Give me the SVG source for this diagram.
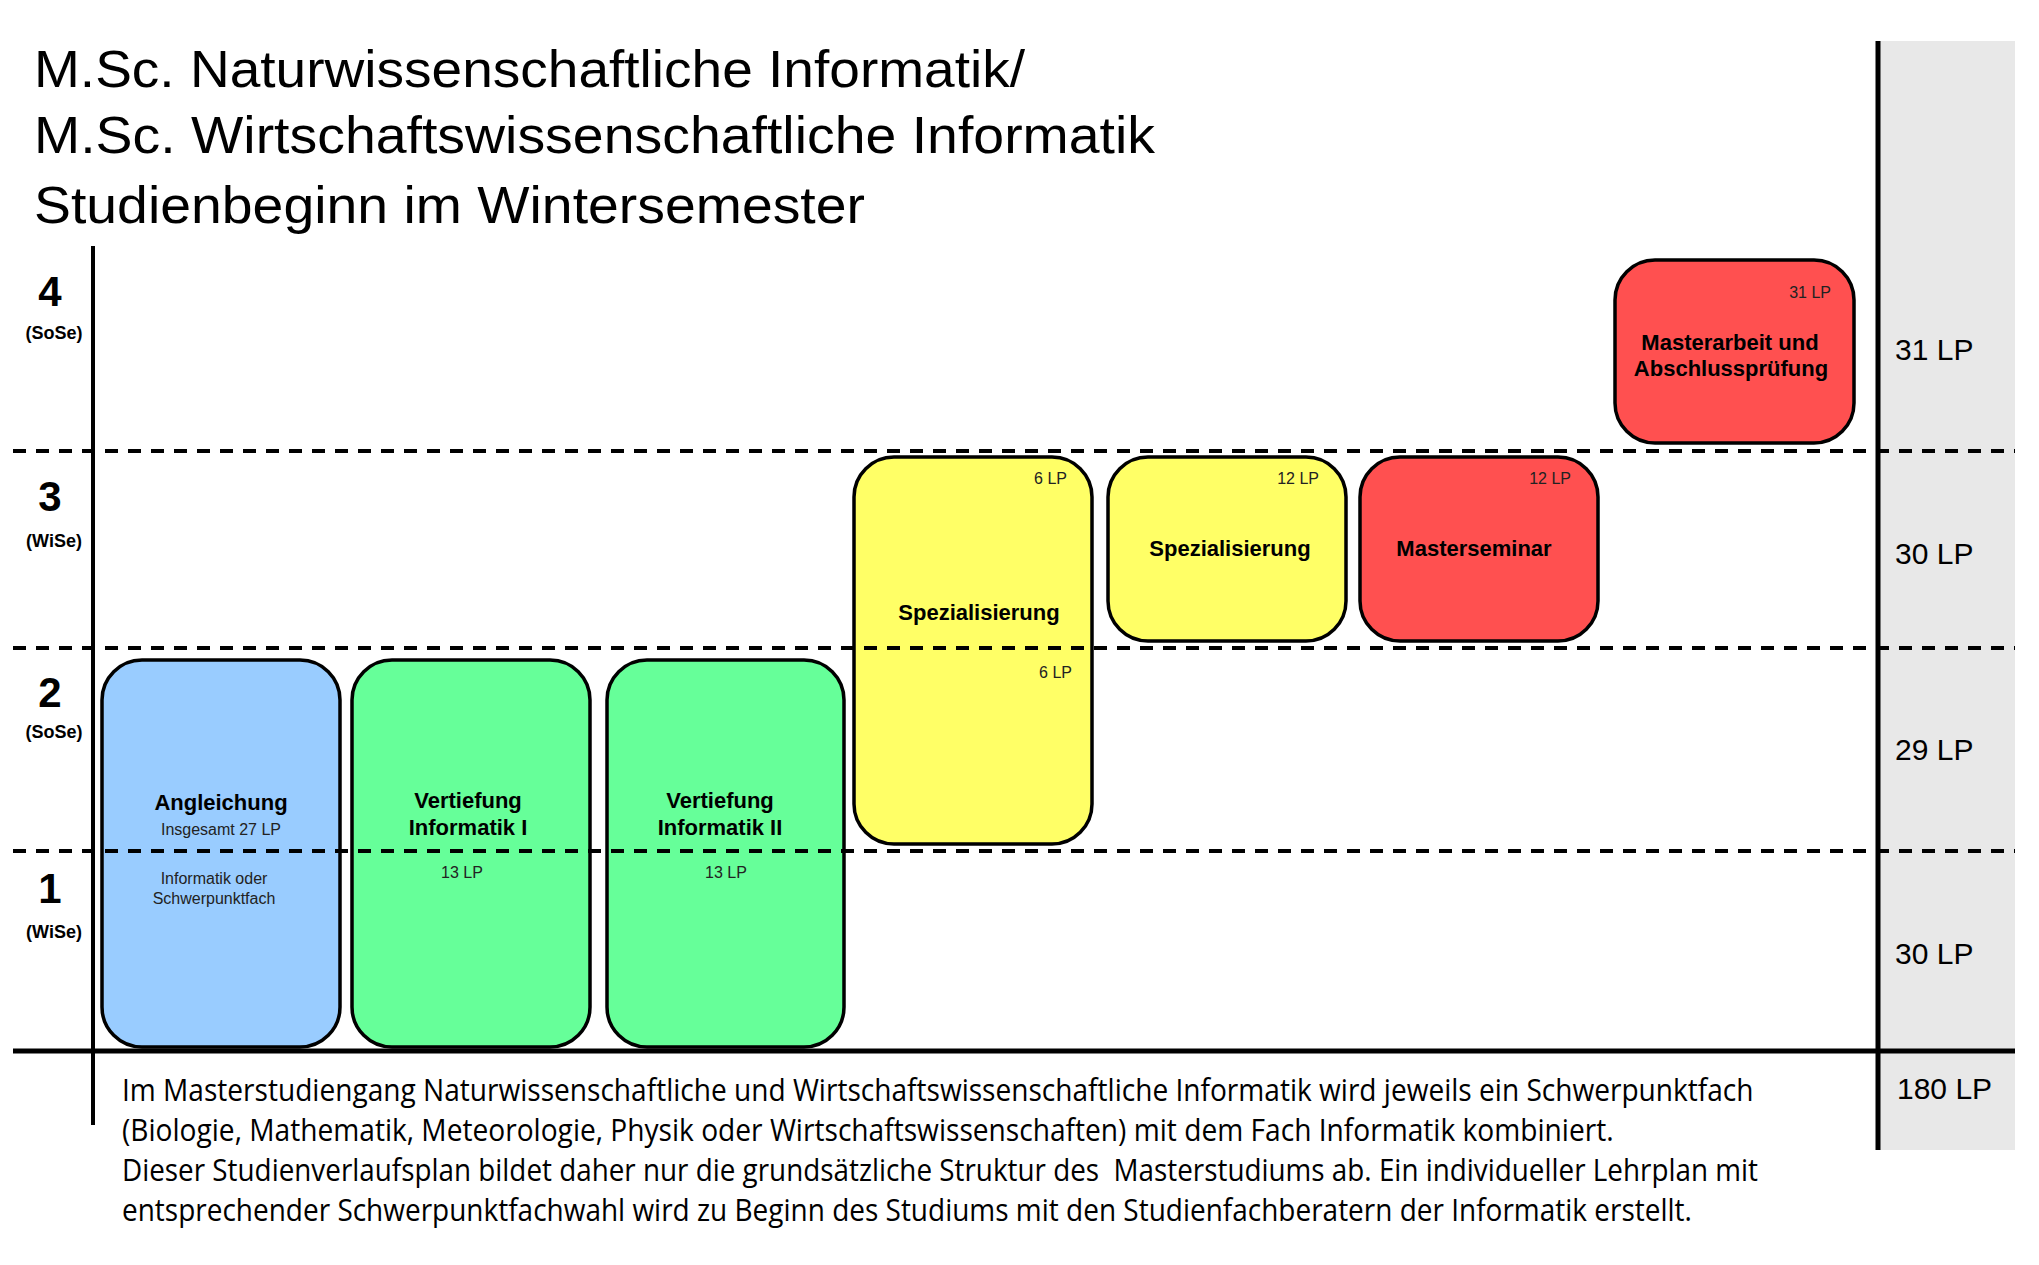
<svg xmlns="http://www.w3.org/2000/svg" width="2039" height="1265" viewBox="0 0 2039 1265">
<style>
.box{stroke:#000;stroke-width:3.5}
.blue{fill:#99ccff}
.green{fill:#66ff99}
.yellow{fill:#ffff66}
.red{fill:#ff5050}
.lbl{font-family:"Liberation Sans",Arial,sans-serif;font-weight:bold;font-size:22px;fill:#000;text-anchor:middle}
.lp{font-family:"Liberation Sans",Arial,sans-serif;font-size:16px;fill:#222}
.mid{text-anchor:middle}
.end{text-anchor:end}
.sem{font-family:"Liberation Sans",Arial,sans-serif;font-weight:bold;font-size:42px;fill:#000;text-anchor:middle}
.semt{font-family:"Liberation Sans",Arial,sans-serif;font-weight:bold;font-size:18px;fill:#000;text-anchor:middle}
.tot{font-family:"Liberation Sans",Arial,sans-serif;font-size:30px;fill:#000}
.title{font-family:"Liberation Sans",Arial,sans-serif;font-size:52px;fill:#000}
.note{font-family:"Open Sans","Liberation Sans",sans-serif;font-size:31px;fill:#000}
.dash{stroke:#000;stroke-width:4;stroke-dasharray:13 10;fill:none}
.solid{stroke:#000;fill:none}
</style>
<rect x="0" y="0" width="2039" height="1265" fill="#fff"/>
<g id="sum-column">
<rect x="1878" y="41" width="137" height="1109" fill="#e8e8e8"/>
</g>
<g id="title">
<text class="title" x="34" y="87" textLength="991" lengthAdjust="spacingAndGlyphs">M.Sc. Naturwissenschaftliche Informatik/</text>
<text class="title" x="34" y="153" textLength="1121" lengthAdjust="spacingAndGlyphs">M.Sc. Wirtschaftswissenschaftliche Informatik</text>
<text class="title" x="34" y="223" textLength="831" lengthAdjust="spacingAndGlyphs">Studienbeginn im Wintersemester</text>
</g>
<g id="semesters">
<text class="sem" x="50" y="306">4</text>
<text class="semt" x="54" y="339">(SoSe)</text>
<text class="sem" x="50" y="511">3</text>
<text class="semt" x="54" y="547">(WiSe)</text>
<text class="sem" x="50" y="707">2</text>
<text class="semt" x="54" y="738">(SoSe)</text>
<text class="sem" x="50" y="903">1</text>
<text class="semt" x="54" y="938">(WiSe)</text>
</g>
<g id="angleichung">
<rect class="box blue" x="102" y="660" width="238" height="387" rx="40" ry="40"/>
<text class="lbl" x="221" y="810">Angleichung</text>
<text class="lp mid" x="221" y="835">Insgesamt 27 LP</text>
<text class="lp mid" x="214" y="884">Informatik oder</text>
<text class="lp mid" x="214" y="904">Schwerpunktfach</text>
</g>
<g id="vertiefung-1">
<rect class="box green" x="352" y="660" width="238" height="387" rx="40" ry="40"/>
<text class="lbl" x="468" y="808">Vertiefung</text>
<text class="lbl" x="468" y="835">Informatik I</text>
<text class="lp mid" x="462" y="878">13 LP</text>
</g>
<g id="vertiefung-2">
<rect class="box green" x="607" y="660" width="237" height="387" rx="40" ry="40"/>
<text class="lbl" x="720" y="808">Vertiefung</text>
<text class="lbl" x="720" y="835">Informatik II</text>
<text class="lp mid" x="726" y="878">13 LP</text>
</g>
<g id="spezialisierung-1">
<rect class="box yellow" x="854" y="457" width="238" height="387" rx="40" ry="40"/>
<text class="lp end" x="1067" y="484">6 LP</text>
<text class="lbl" x="979" y="620">Spezialisierung</text>
<text class="lp end" x="1072" y="678">6 LP</text>
</g>
<g id="spezialisierung-2">
<rect class="box yellow" x="1108" y="457" width="238" height="184" rx="40" ry="40"/>
<text class="lp end" x="1319" y="484">12 LP</text>
<text class="lbl" x="1230" y="556">Spezialisierung</text>
</g>
<g id="masterseminar">
<rect class="box red" x="1360" y="457" width="238" height="184" rx="40" ry="40"/>
<text class="lp end" x="1571" y="484">12 LP</text>
<text class="lbl" x="1474" y="556">Masterseminar</text>
</g>
<g id="masterarbeit">
<rect class="box red" x="1615" y="260" width="239" height="183" rx="40" ry="40"/>
<text class="lp end" x="1831" y="298">31 LP</text>
<text class="lbl" x="1730" y="350">Masterarbeit und</text>
<text class="lbl" x="1731" y="376">Abschlussprüfung</text>
</g>
<g id="grid">
<line class="solid" x1="93" y1="246" x2="93" y2="1125" stroke-width="4"/>
<line class="solid" x1="1878" y1="41" x2="1878" y2="1150" stroke-width="5"/>
<line class="solid" x1="13" y1="1051" x2="2015" y2="1051" stroke-width="5"/>
<line class="dash" x1="13" y1="451" x2="2015" y2="451"/>
<line class="dash" x1="13" y1="648" x2="2015" y2="648"/>
<line class="dash" x1="13" y1="851" x2="2015" y2="851"/>
</g>
<g id="connectors"></g>
<g id="totals">
<text class="tot" x="1895" y="360">31 LP</text>
<text class="tot" x="1895" y="564">30 LP</text>
<text class="tot" x="1895" y="760">29 LP</text>
<text class="tot" x="1895" y="964">30 LP</text>
<text class="tot" x="1897" y="1099">180 LP</text>
</g>
<g id="note">
<text class="note" transform="translate(122,1101) scale(0.88,1)" x="0" y="0" textLength="1854" lengthAdjust="spacingAndGlyphs">Im Masterstudiengang Naturwissenschaftliche und Wirtschaftswissenschaftliche Informatik wird jeweils ein Schwerpunktfach</text>
<text class="note" transform="translate(122,1141) scale(0.88,1)" x="0" y="0" textLength="1695" lengthAdjust="spacingAndGlyphs">(Biologie, Mathematik, Meteorologie, Physik oder Wirtschaftswissenschaften) mit dem Fach Informatik kombiniert.</text>
<text class="note" transform="translate(122,1181) scale(0.88,1)" x="0" y="0" textLength="1859" lengthAdjust="spacingAndGlyphs" xml:space="preserve">Dieser Studienverlaufsplan bildet daher nur die grundsätzliche Struktur des  Masterstudiums ab. Ein individueller Lehrplan mit</text>
<text class="note" transform="translate(122,1221) scale(0.88,1)" x="0" y="0" textLength="1784" lengthAdjust="spacingAndGlyphs">entsprechender Schwerpunktfachwahl wird zu Beginn des Studiums mit den Studienfachberatern der Informatik erstellt.</text>
</g>
</svg>
